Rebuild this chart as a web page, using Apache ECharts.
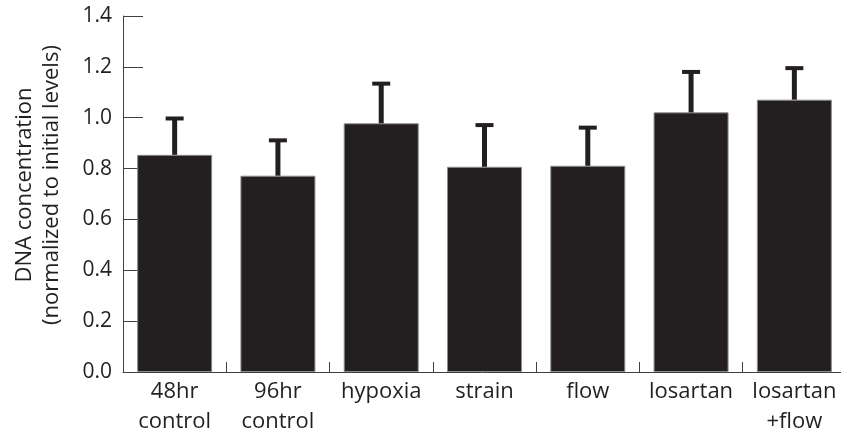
<!DOCTYPE html>
<html>
<head>
<meta charset="utf-8">
<script src="https://cdn.jsdelivr.net/npm/echarts@6/dist/echarts.min.js"></script>
<style>
html,body{margin:0;padding:0;background:#fff;}
#chart{width:841px;height:431px;}
</style>
</head>
<body>
<div id="chart"></div>
<script>
var categories = ['48hr\ncontrol', '96hr\ncontrol', 'hypoxia', 'strain', 'flow', 'losartan', 'losartan\n+flow'];
var means = [0.854, 0.772, 0.978, 0.807, 0.811, 1.021, 1.071];
var upper = [0.997, 0.911, 1.134, 0.971, 0.961, 1.180, 1.195];
var yTicks = [0, 0.2, 0.4, 0.6, 0.8, 1.0, 1.2, 1.4];

var FONT = '"Open Sans", "Noto Sans", sans-serif';
var TXT = '#231f20';
var AX = '#404040';

var errData = means.map(function (m, i) { return [i, m, upper[i]]; });

var chart = echarts.init(document.getElementById('chart'), null, {renderer: 'canvas'});
chart.setOption({
  animation: false,
  backgroundColor: '#ffffff',
  grid: {left: 123, right: -5, top: 16, bottom: 59, containLabel: false, outerBoundsMode: 'none'},
  xAxis: {
    type: 'category',
    data: categories,
    boundaryGap: true,
    axisLine: {lineStyle: {color: AX, width: 1}},
    axisTick: {show: true, inside: true, length: 10, alignWithLabel: false, lineStyle: {color: AX, width: 1}},
    axisLabel: {color: TXT, fontFamily: FONT, fontSize: 22, lineHeight: 30, margin: 5, interval: 0}
  },
  yAxis: {
    type: 'value',
    min: yTicks[0],
    max: yTicks[yTicks.length - 1],
    interval: 0.2,
    name: 'DNA concentration\n(normalized to initial levels)',
    nameLocation: 'middle',
    nameRotate: 90,
    nameGap: 58,
    nameTextStyle: {color: TXT, fontFamily: FONT, fontSize: 22, lineHeight: 27, padding: [0, 0, 0, 18]},
    axisLine: {show: true, lineStyle: {color: AX, width: 1}},
    axisTick: {show: true, inside: true, length: 20, lineStyle: {color: AX, width: 1}},
    splitLine: {show: false},
    axisLabel: {color: TXT, fontFamily: FONT, fontSize: 21, margin: 11, padding: [4, 0, 0, 0],
      formatter: function (v) { return v.toFixed(1); }}
  },
  series: [
    {
      type: 'bar',
      data: means,
      barWidth: 75,
      itemStyle: {color: '#231f20', borderColor: '#8c8c8c', borderWidth: 1},
      z: 2
    },
    {
      type: 'custom',
      data: errData,
      z: 3,
      renderItem: function (params, api) {
        var base = api.coord([api.value(0), api.value(1)]);
        var top = api.coord([api.value(0), api.value(2)]);
        var x = base[0];
        return {
          type: 'group',
          children: [
            {type: 'rect', shape: {x: x - 2.5, y: top[1], width: 5, height: base[1] - top[1]},
              style: {fill: '#231f20'}},
            {type: 'rect', shape: {x: x - 9, y: top[1] - 2, width: 18, height: 4},
              style: {fill: '#231f20'}}
          ]
        };
      }
    }
  ]
});
</script>
</body>
</html>
